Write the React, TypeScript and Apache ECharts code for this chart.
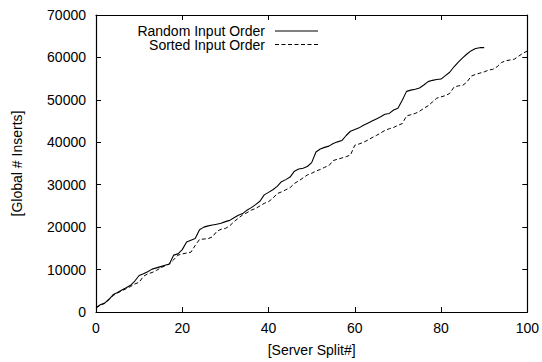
import React, { useEffect, useRef } from "react";
import * as echarts from "echarts";

const xTicks = [0, 20, 40, 60, 80, 100];
const yTicks = [0, 10000, 20000, 30000, 40000, 50000, 60000, 70000];

const seriesNames = ["Random Input Order", "Sorted Input Order"];

// Global # inserts after each server split (x = 0..90)
const randomOrder = [
  1000, 1700, 2100, 3000, 4100, 4600, 5200, 5700, 6300, 7300,
  8600, 9000, 9500, 10100, 10400, 10700, 11000, 11300, 13400, 13700,
  14700, 16500, 16900, 17300, 19400, 20000, 20300, 20500, 20700, 20900,
  21300, 21600, 22200, 22800, 23200, 24000, 24600, 25300, 26100, 27600,
  28200, 28800, 29600, 30700, 31200, 31800, 33200, 33700, 33900, 34300,
  35200, 37700, 38400, 38800, 39100, 39700, 40100, 40400, 41600, 42600,
  43000, 43400, 44000, 44500, 45000, 45500, 46000, 46600, 46800, 47600,
  48000, 49900, 52000, 52300, 52500, 52800, 53500, 54300, 54600, 54800,
  54900, 55700, 56500, 57800, 58900, 59900, 60800, 61600, 62100, 62300,
  62300,
];

// Global # inserts after each server split (x = 0..100)
const sortedOrder = [
  1000, 1600, 2000, 2900, 3900, 4500, 5000, 5500, 6000, 6600,
  7000, 8400, 9000, 9300, 9800, 10400, 10900, 11300, 12300, 13400,
  13700, 13900, 14100, 15700, 17100, 17200, 17300, 17700, 19000, 19500,
  19700, 20300, 21300, 22100, 22900, 23400, 24000, 24400, 25000, 25600,
  26000, 26800, 27900, 28300, 28800, 29300, 30300, 30900, 31600, 32300,
  32700, 33200, 33600, 34100, 34500, 35700, 36000, 36300, 36600, 37000,
  39300, 39600, 40000, 40500, 41100, 41600, 42200, 42800, 43200, 43500,
  44000, 44400, 46200, 46500, 46800, 47300, 48000, 48600, 49500, 50400,
  50700, 51000, 51500, 53000, 53300, 53400, 54200, 55600, 56000, 56300,
  56600, 57000, 57200, 57800, 58800, 59200, 59400, 59600, 60300, 61000,
  61500,
];

const FONT = "'Liberation Sans', Arial, Helvetica, sans-serif";
const DASH = [4, 2.5];

export default function App() {
  const ref = useRef<HTMLDivElement>(null);

  useEffect(() => {
    if (!ref.current) return;
    const chart = echarts.init(ref.current, undefined, { renderer: "svg" });
    const xInterval = xTicks[1] - xTicks[0];
    const yInterval = yTicks[1] - yTicks[0];
    const common = {
      axisLine: { show: true, onZero: false, lineStyle: { color: "#000", width: 1.2 } },
      axisTick: { show: true, inside: true, length: 5, lineStyle: { color: "#000", width: 1 } },
      splitLine: { show: false },
    };
    const option: any = {
      animation: false,
      backgroundColor: "#fff",
      grid: { left: 96, right: 13, top: 15, bottom: 45, containLabel: false },
      xAxis: [
        {
          type: "value",
          min: xTicks[0],
          max: xTicks[xTicks.length - 1],
          interval: xInterval,
          position: "bottom",
          name: "[Server Split#]",
          nameLocation: "middle",
          nameGap: 31,
          nameTextStyle: { fontFamily: FONT, fontSize: 14, color: "#000" },
          axisLabel: {
            fontFamily: FONT,
            fontSize: 14,
            color: "#000",
            margin: 9,
            formatter: (v: number) => String(v),
          },
          ...common,
        },
        {
          type: "value",
          min: xTicks[0],
          max: xTicks[xTicks.length - 1],
          interval: xInterval,
          position: "top",
          axisLabel: { show: false },
          ...common,
        },
      ],
      yAxis: [
        {
          type: "value",
          min: yTicks[0],
          max: yTicks[yTicks.length - 1],
          interval: yInterval,
          position: "left",
          name: "[Global # Inserts]",
          nameLocation: "middle",
          nameGap: 72,
          nameTextStyle: { fontFamily: FONT, fontSize: 14, color: "#000" },
          axisLabel: {
            fontFamily: FONT,
            fontSize: 14,
            color: "#000",
            margin: 10,
            formatter: (v: number) => String(v),
          },
          ...common,
        },
        {
          type: "value",
          min: yTicks[0],
          max: yTicks[yTicks.length - 1],
          interval: yInterval,
          position: "right",
          axisLabel: { show: false },
          ...common,
        },
      ],
      series: [
        {
          name: seriesNames[0],
          type: "line",
          showSymbol: false,
          symbol: "none",
          xAxisIndex: 0,
          yAxisIndex: 0,
          data: randomOrder.map((v, i) => [i, v]),
          lineStyle: { color: "#000", width: 1.1, type: "solid" },
        },
        {
          name: seriesNames[1],
          type: "line",
          showSymbol: false,
          symbol: "none",
          xAxisIndex: 0,
          yAxisIndex: 0,
          data: sortedOrder.map((v, i) => [i, v]),
          lineStyle: { color: "#000", width: 1, type: DASH },
        },
      ],
      graphic: [
        {
          type: "text",
          x: 265,
          y: 30.5,
          style: {
            text: seriesNames[0],
            fontFamily: FONT,
            fontSize: 14,
            fill: "#000",
            align: "right",
            verticalAlign: "middle",
          },
        },
        {
          type: "line",
          shape: { x1: 275, y1: 31, x2: 318, y2: 31 },
          style: { stroke: "#000", lineWidth: 1.1 },
        },
        {
          type: "text",
          x: 265,
          y: 45,
          style: {
            text: seriesNames[1],
            fontFamily: FONT,
            fontSize: 14,
            fill: "#000",
            align: "right",
            verticalAlign: "middle",
          },
        },
        {
          type: "line",
          shape: { x1: 275, y1: 44.5, x2: 318, y2: 44.5 },
          style: { stroke: "#000", lineWidth: 1, lineDash: DASH },
        },
      ],
    };
    chart.setOption(option);
    return () => chart.dispose();
  }, []);

  return (
    <div
      ref={ref}
      style={{ position: "absolute", left: 0, top: 0, width: 542, height: 362 }}
    />
  );
}
